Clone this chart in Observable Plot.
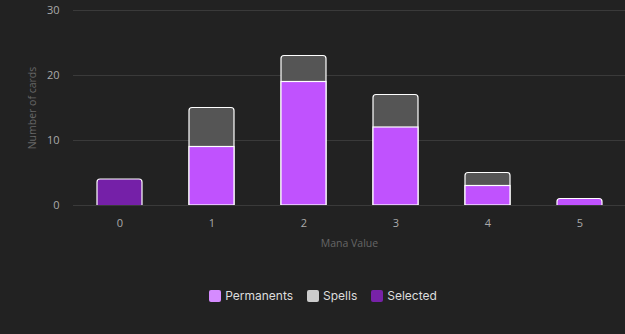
<!DOCTYPE html>
<html><head><meta charset="utf-8">
<script src="https://cdn.jsdelivr.net/npm/d3@7"></script>
<script src="https://cdn.jsdelivr.net/npm/@observablehq/plot@0.6"></script>
<style>
html,body{margin:0;padding:0;background:#222222;}
#chart{width:625px;height:334px;overflow:hidden;font-family:"Open Sans",sans-serif;}
.legend{display:flex;justify-content:center;align-items:center;gap:14px;margin-top:18px;padding-left:21px;font-family:"Inter",sans-serif;font-size:12px;color:#dddddd;}
.legend span.item{display:flex;align-items:center;gap:4px;}
.legend span.sw{width:12px;height:12px;border-radius:2px;display:inline-block;}
</style></head>
<body><div id="chart"></div>
<script>
const manaValues = ["0","1","2","3","4","5"];
const permanents = [0, 9, 19, 12, 3, 1];
const spells = [0, 6, 4, 5, 2, 0];
const selected = [4, 0, 0, 0, 0, 0];
const seriesNames = ["Permanents", "Spells", "Selected"];
const barColors = {Permanents: "#c052fe", Spells: "#555555", Selected: "#7520a8"};
const legendColors = {Permanents: "#d58bff", Spells: "#cccccc", Selected: "#7722a8"};
const yTicks = [0, 10, 20, 30];

// stacking order bottom->top: Selected, Permanents, Spells
const tops = [], lowers = [];
manaValues.forEach((mv, i) => {
  const vals = [["Selected", selected[i]], ["Permanents", permanents[i]], ["Spells", spells[i]]];
  let acc = 0; const segs = [];
  for (const [s, v] of vals) { if (v > 0) { segs.push({mv, s, y1: acc, y2: acc + v}); acc += v; } }
  if (segs.length) {
    const top = segs[segs.length - 1];
    // top segment drawn rounded from below the baseline (clipped) so only top corners are round
    tops.push({mv, s: top.s, y1: -1, y2: top.y2});
    segs.slice(0, -1).forEach(d => lowers.push(d));
  }
});

const plot = Plot.plot({
  width: 625, height: 270,
  marginLeft: 73, marginRight: 0, marginTop: 10, marginBottom: 65,
  style: {background: "#222222", color: "#aaaaaa", fontFamily: "'Open Sans', sans-serif", fontSize: "11px"},
  x: {domain: manaValues, paddingInner: 0.515, paddingOuter: 0.2575, label: null},
  y: {domain: [0, 30], label: null},
  marks: [
    Plot.gridY(yTicks, {stroke: "#3a3a3a", strokeOpacity: 1, strokeWidth: 1}),
    Plot.axisY(yTicks, {tickSize: 0, tickPadding: 14, fill: "#aaaaaa", fontSize: 11}),
    Plot.axisX({tickSize: 0, tickPadding: 14, fill: "#aaaaaa", fontSize: 11}),
    Plot.rectY(tops, {x: "mv", y1: "y1", y2: "y2", fill: d => barColors[d.s], stroke: "white", strokeWidth: 1.2, rx: 3, clip: true}),
    Plot.rectY(lowers, {x: "mv", y1: "y1", y2: "y2", fill: d => barColors[d.s], stroke: "white", strokeWidth: 1.2, clip: true}),
    Plot.ruleY([0], {stroke: "#3a3a3a"}),
    Plot.text(["Number of cards"], {frameAnchor: "left", textAnchor: "middle", dx: -41, rotate: -90, fill: "#666666", fontSize: 10.5}),
    Plot.text(["Mana Value"], {frameAnchor: "bottom", dy: 41, fill: "#666666", fontSize: 10.5})
  ]
});
const chart = document.getElementById("chart");
chart.appendChild(plot);
const legend = document.createElement("div");
legend.className = "legend";
seriesNames.forEach(s => {
  const it = document.createElement("span"); it.className = "item";
  const sw = document.createElement("span"); sw.className = "sw"; sw.style.background = legendColors[s];
  const t = document.createElement("span"); t.textContent = s;
  it.appendChild(sw); it.appendChild(t); legend.appendChild(it);
});
chart.appendChild(legend);
</script></body></html>
